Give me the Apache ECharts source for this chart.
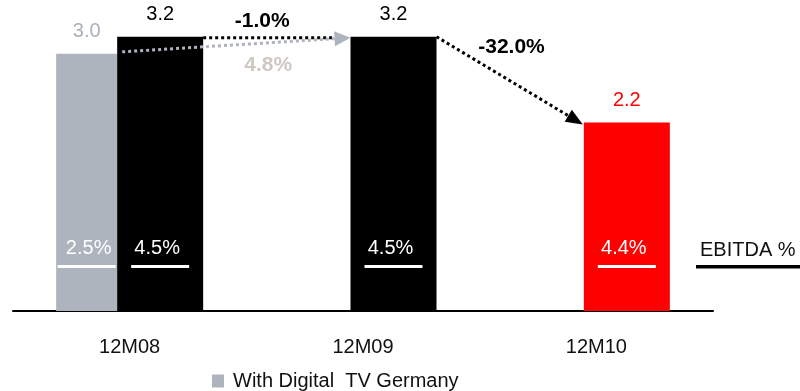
<!DOCTYPE html>
<html>
<head>
<meta charset="utf-8">
<script src="https://cdn.jsdelivr.net/npm/echarts@6/dist/echarts.min.js"></script>
<style>
  html, body { margin: 0; padding: 0; background: #fff; }
  #chart { width: 800px; height: 391px; }
</style>
</head>
<body>
<div id="chart"></div>
<script>
// EBITDA (EUR) by period, with and without Digital TV Germany
const categories = ['12M08', '12M09', '12M10'];
const digitalTvValues = [3.0, null, null];
const coreValues = [3.2, 3.2, 2.2];
const digitalTvMargins = ['2.5%', null, null];
const coreMargins = ['4.5%', '4.5%', '4.4%'];
const changeCoreToNext = '-1.0%';
const changeDigitalToNext = '4.8%';
const changeLastYear = '-32.0%';
const legendName = 'With Digital  TV Germany';
const marginTitle = 'EBITDA %';

const FONT = "'Liberation Sans', Arial, sans-serif";
const FS = 20;
const FS_BOLD = 21;
const GREY = '#aeb4bd';
const GREY_TEXT = '#a9b0b9';
const BEIGE = '#cdc9c1';
const RED = '#ff0000';

const chart = echarts.init(document.getElementById('chart'), null, { renderer: 'canvas' });

chart.setOption({
  animation: false,
  textStyle: { fontFamily: FONT },
  grid: { left: 13, right: 87, top: 11, bottom: 80, containLabel: false },
  legend: {
    data: [{ name: legendName, icon: 'rect' }],
    left: 212, top: 371, padding: 0,
    itemWidth: 12, itemHeight: 13,
    textStyle: { fontSize: FS, color: '#111', fontFamily: FONT, padding: [0, 0, 0, 4] },
    selectedMode: false
  },
  xAxis: {
    type: 'category',
    data: categories,
    axisLine: { lineStyle: { color: '#000', width: 2 } },
    axisTick: { show: false },
    axisLabel: { fontSize: FS, color: '#111', margin: 26, fontFamily: FONT }
  },
  yAxis: { type: 'value', min: 0, max: 3.5, show: false, splitLine: { show: false } },
  series: [
    {
      name: legendName,
      type: 'bar',
      barWidth: 61,
      barGap: 0,
      itemStyle: { color: GREY },
      label: { show: true, position: 'top', distance: 12, fontSize: FS, color: GREY_TEXT, formatter: p => p.value.toFixed(1) },
      data: digitalTvValues
    },
    {
      name: 'EBITDA',
      type: 'bar',
      barWidth: 86,
      barGap: 0,
      itemStyle: { color: '#000' },
      label: { show: true, position: 'top', distance: 12, fontSize: FS, color: '#000', formatter: p => p.value.toFixed(1) },
      data: coreValues.map((v, i) => i === coreValues.length - 1
        ? { value: v, itemStyle: { color: RED }, label: { color: RED } }
        : v)
    }
  ]
});

// Bar rectangle as laid out by ECharts, normalised to left/top/right/bottom
function barRect(seriesIndex, dataIndex) {
  const l = chart.getModel().getSeriesByIndex(seriesIndex).getData().getItemLayout(dataIndex);
  const top = Math.min(l.y, l.y + l.height);
  const bottom = Math.max(l.y, l.y + l.height);
  const left = Math.min(l.x, l.x + l.width);
  const right = Math.max(l.x, l.x + l.width);
  return { left, right, top, bottom, cx: (left + right) / 2 };
}

function dotted(x1, y1, x2, y2, color) {
  return {
    type: 'line', silent: true, z: 10,
    shape: { x1, y1, x2, y2 },
    style: { stroke: color, lineWidth: 3, lineDash: [3, 3], lineCap: 'butt' }
  };
}

// Arrow: dotted shaft plus a filled triangular head ending at (x2, y2)
function arrow(x1, y1, x2, y2, lineColor, headColor, len, wid) {
  const dx = x2 - x1, dy = y2 - y1;
  const d = Math.hypot(dx, dy);
  const ux = dx / d, uy = dy / d;
  const bx = x2 - ux * len, by = y2 - uy * len;
  const px = -uy * wid / 2, py = ux * wid / 2;
  return [
    dotted(x1, y1, bx, by, lineColor),
    {
      type: 'polygon', silent: true, z: 11,
      shape: { points: [[x2, y2], [bx + px, by + py], [bx - px, by - py]] },
      style: { fill: headColor }
    }
  ];
}

function txt(x, y, text, color, size, weight, align) {
  return {
    type: 'text', silent: true, z: 12,
    x, y,
    style: {
      text, fill: color, fontSize: size, fontWeight: weight || 'normal',
      fontFamily: FONT, align: align || 'center', verticalAlign: 'middle'
    }
  };
}

function marginMark(rect, label, shift) {
  return [
    txt(rect.cx + shift, rect.bottom - 63, label, '#fff', FS),
    {
      type: 'rect', silent: true, z: 12,
      shape: { x: rect.cx - 29, y: rect.bottom - 46, width: 58, height: 3 },
      style: { fill: '#fff' }
    }
  ];
}

const g0 = barRect(0, 0);   // Digital TV, first period
const c0 = barRect(1, 0);
const c1 = barRect(1, 1);
const c2 = barRect(1, 2);
const baseY = c0.bottom;

const elements = [];

// Period-over-period arrows
elements.push(dotted(c0.right, c0.top + 1, c1.left - 14, c1.top + 1, '#000'));
elements.push(...arrow(g0.right + 5, g0.top - 2, c1.left, c1.top + 1, GREY, GREY, 16, 15));
elements.push(...arrow(c1.right, c1.top, c2.left - 1, c2.top + 2, '#000', '#000', 17, 14));

// Change annotations
elements.push(txt(c0.right + 59, c0.top - 16, changeCoreToNext, '#000', FS_BOLD, 'bold'));
elements.push(txt(c0.right + 65, c0.top + 28, changeDigitalToNext, BEIGE, FS_BOLD, 'bold'));
elements.push(txt(c1.right + 75, c1.top + 10, changeLastYear, '#000', FS_BOLD, 'bold'));

// EBITDA margins inside the bars
digitalTvMargins.forEach((m, i) => { if (m) elements.push(...marginMark(barRect(0, i), m, 2)); });
coreMargins.forEach((m, i) => { if (m) elements.push(...marginMark(barRect(1, i), m, -3)); });

// Margin row title
elements.push(txt(700, baseY - 61, marginTitle, '#111', FS, 'normal', 'left'));
elements.push({
  type: 'rect', silent: true, z: 12,
  shape: { x: 696, y: baseY - 46, width: 104, height: 3.5 },
  style: { fill: '#000' }
});

chart.setOption({ graphic: { elements } });
</script>
</body>
</html>
